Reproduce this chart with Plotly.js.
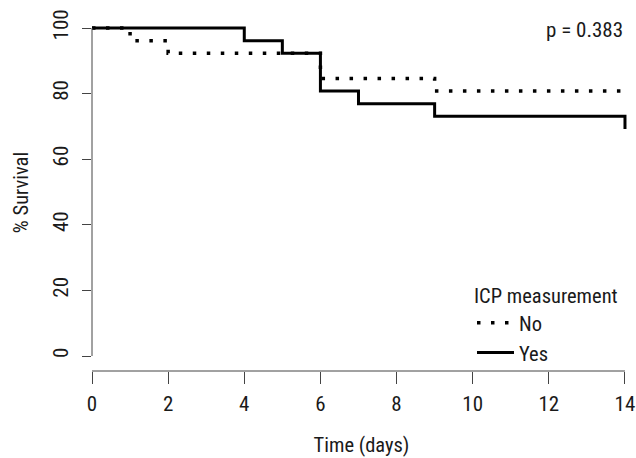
<!DOCTYPE html>
<html>
<head>
<meta charset="utf-8">
<script src="https://cdn.plot.ly/plotly-3.0.1.min.js"></script>
<style>html,body{margin:0;padding:0;background:#fff;}#chart{width:636px;height:458px;}</style>
</head>
<body>
<div id="chart"></div>
<script>
// Kaplan-Meier survival estimates (% survival)
var timeNo = [0, 1, 2, 6, 9, 14];
var survNo = [100, 96.15, 92.31, 84.62, 80.77, 80.77];
var timeYes = [0, 4, 5, 6, 7, 9, 14, 14];
var survYes = [100, 96.15, 92.31, 80.77, 76.92, 73.08, 73.08, 69.23];
var groupNames = ["No", "Yes"];
var xTicks = [0, 2, 4, 6, 8, 10, 12, 14];
var yTicks = [0, 20, 40, 60, 80, 100];
var pText = "p = 0.383";

var FONT = "Liberation Sans Narrow, Arial Narrow, Roboto Condensed, Liberation Sans, sans-serif";

var traces = [
  {x: timeYes, y: survYes, name: groupNames[1], mode: "lines",
   line: {shape: "hv", color: "#000", width: 3}},
  {x: timeNo, y: survNo, name: groupNames[0], mode: "lines",
   line: {shape: "hv", color: "#000", width: 3.5, dash: "3.5px,10.5px"}}
];

var layout = {
  width: 636, height: 458,
  margin: {l: 92, r: 5, t: 14, b: 87},
  paper_bgcolor: "#fff", plot_bgcolor: "#fff",
  font: {family: FONT, size: 20, color: "#1a1a1a"},
  showlegend: true,
  legend: {x: 0.705, y: 0.265, xanchor: "left", yanchor: "top",
           traceorder: "reversed", bgcolor: "rgba(0,0,0,0)",
           itemwidth: 37, tracegroupgap: 0,
           title: {text: "ICP measurement", side: "top", font: {family: FONT, size: 20.5}},
           font: {family: FONT, size: 20.5}},
  xaxis: {range: [0, 14.158], tickvals: xTicks, ticktext: xTicks.map(String),
          ticks: "outside", ticklen: 12, tickwidth: 1, tickcolor: "#444",
          showgrid: false, zeroline: false, showline: false,
          ticklabelstandoff: 2,
          tickfont: {family: FONT, size: 21},
          title: {text: "Time (days)", font: {family: FONT, size: 20.5}, standoff: 22}},
  yaxis: {range: [-4.573, 104.268], tickvals: yTicks, ticktext: yTicks.map(String),
          ticks: "outside", ticklen: 9, tickwidth: 1, tickcolor: "#444",
          tickangle: -90,
          showgrid: false, zeroline: false, showline: false,
          ticklabelstandoff: 6,
          tickfont: {family: FONT, size: 21},
          title: {text: "% Survival", font: {family: FONT, size: 20.5}, standoff: 14}},
  shapes: [
    {type: "line", xref: "x", yref: "paper", x0: xTicks[0], x1: xTicks[xTicks.length - 1], y0: 0, y1: 0,
     line: {color: "#444", width: 1}},
    {type: "line", xref: "paper", yref: "y", x0: 0, x1: 0, y0: yTicks[0], y1: yTicks[yTicks.length - 1],
     line: {color: "#444", width: 1}}
  ],
  annotations: [
    {text: pText, xref: "paper", yref: "paper", x: 0.988, y: 0.955, xanchor: "right", yanchor: "middle",
     showarrow: false, font: {family: FONT, size: 21}}
  ]
};

Plotly.newPlot("chart", traces, layout, {displayModeBar: false, staticPlot: true});
</script>
</body>
</html>
